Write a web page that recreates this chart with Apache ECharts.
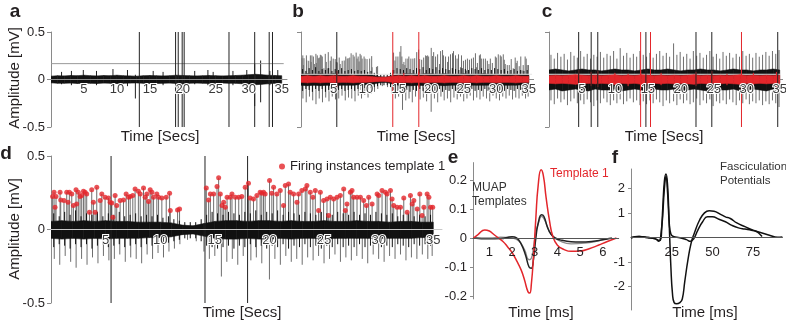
<!DOCTYPE html>
<html>
<head>
<meta charset="utf-8">
<script src="https://cdn.jsdelivr.net/npm/echarts@6/dist/echarts.min.js"></script>
<style>html,body{margin:0;padding:0;background:#fff}#app{width:786px;height:323px}</style>
</head>
<body>
<div id="app"></div>
<script>
var font = 'Liberation Sans';
var ink = '#231f20';
var axisGray = '#8a8a8a';
var red = '#e3262b';

// ---- shared 1 s grid for the noise envelopes (a-d)
var bandT = [0,1,2,3,4,5,6,7,8,9,10,11,12,13,14,15,16,17,18,19,20,21,22,23,24,25,26,27,28,29,30,31,32,33,34,35];

// ---- panel a
var aUp = [0.035,0.04,0.038,0.042,0.04,0.045,0.04,0.038,0.042,0.04,0.045,0.04,0.038,0.035,0.04,0.042,0.04,0.038,0.04,0.045,0.042,0.04,0.038,0.04,0.042,0.04,0.038,0.04,0.042,0.045,0.05,0.055,0.05,0.045,0.042,0.04];
var aLo = [-0.035,-0.04,-0.04,-0.038,-0.042,-0.04,-0.04,-0.042,-0.038,-0.04,-0.042,-0.04,-0.038,-0.036,-0.04,-0.04,-0.042,-0.04,-0.038,-0.042,-0.045,-0.04,-0.038,-0.04,-0.042,-0.04,-0.038,-0.04,-0.04,-0.045,-0.05,-0.055,-0.05,-0.045,-0.04,-0.04];
// [time, top, bottom]
var aSpikes = [[1.6,0.08,-0.05],[3.1,0.09,-0.06],[4.9,0.1,-0.05],[6.9,0.09,-0.06],[9.4,0.11,-0.06],[11.6,0.1,-0.07],[12.8,0.05,-0.2],[15.5,0.09,-0.05],[17.0,0.08,-0.06],[21.8,0.09,-0.05],[23.8,0.1,-0.06],[24.6,0.08,-0.05],[27.6,0.09,-0.06],[29.7,0.1,-0.06],[30.9,0.17,-0.28],[31.8,0.2,-0.24],[33.2,0.09,-0.06],[34.4,0.1,-0.05]];
var aLines = [13.4, 18.9, 19.3, 19.9, 20.2, 27.0, 30.9, 33.1, 33.6];
var aThreshold = 0.167;

// ---- panels b and d (same recording)
var dUp = [0.055,0.06,0.055,0.06,0.055,0.06,0.055,0.055,0.05,0.05,0.05,0.045,0.03,0.025,0.04,0.055,0.06,0.06,0.055,0.06,0.06,0.055,0.06,0.055,0.055,0.06,0.055,0.055,0.06,0.055,0.055,0.05,0.055,0.055,0.05,0.05];
var dLo = [-0.06,-0.065,-0.06,-0.065,-0.06,-0.065,-0.06,-0.06,-0.06,-0.055,-0.055,-0.05,-0.035,-0.03,-0.045,-0.06,-0.065,-0.065,-0.06,-0.065,-0.065,-0.06,-0.065,-0.06,-0.06,-0.065,-0.06,-0.06,-0.06,-0.06,-0.06,-0.06,-0.06,-0.06,-0.055,-0.055];
var dBlack = [[0.25,0.11,-0.12],[0.75,0.09,-0.1],[1.25,0.12,-0.11],[1.75,0.1,-0.13],[2.25,0.13,-0.1],[2.75,0.09,-0.12],[3.25,0.11,-0.1],[3.75,0.1,-0.13],[4.25,0.12,-0.11],[4.75,0.09,-0.1],[5.25,0.11,-0.12],[5.75,0.1,-0.11],[6.25,0.12,-0.1],[6.75,0.09,-0.12],[7.25,0.1,-0.11],[7.75,0.11,-0.1],[8.25,0.09,-0.12],[8.75,0.1,-0.1],[9.25,0.09,-0.11],[9.75,0.1,-0.09],[10.25,0.08,-0.1],[10.75,0.09,-0.09],[11.25,0.07,-0.08],[11.75,0.06,-0.07],[12.25,0.05,-0.06],[12.75,0.05,-0.06],[13.25,0.05,-0.06],[13.75,0.07,-0.08],[14.25,0.1,-0.11],[14.75,0.12,-0.12],[15.25,0.11,-0.13],[15.75,0.1,-0.12],[16.25,0.12,-0.11],[16.75,0.11,-0.13],[17.25,0.1,-0.11],[17.75,0.12,-0.12],[18.25,0.11,-0.1],[18.75,0.13,-0.12],[19.25,0.1,-0.11],[19.75,0.12,-0.13],[20.25,0.11,-0.11],[20.75,0.13,-0.12],[21.25,0.1,-0.1],[21.75,0.12,-0.13],[22.25,0.11,-0.11],[22.75,0.1,-0.12],[23.25,0.12,-0.1],[23.75,0.11,-0.12],[24.25,0.1,-0.11],[24.75,0.12,-0.13],[25.25,0.11,-0.11],[25.75,0.1,-0.12],[26.25,0.12,-0.1],[26.75,0.11,-0.12],[27.25,0.1,-0.11],[27.75,0.12,-0.12],[28.25,0.1,-0.1],[28.75,0.11,-0.12],[29.25,0.1,-0.11],[29.75,0.12,-0.1],[30.25,0.11,-0.12],[30.75,0.1,-0.11],[31.25,0.11,-0.12],[31.75,0.09,-0.1],[32.25,0.1,-0.11],[32.75,0.11,-0.12],[33.25,0.09,-0.1],[33.75,0.1,-0.11],[34.25,0.09,-0.1],[34.75,0.1,-0.11]];
var dNeg = [[0.3,-0.2],[0.8,-0.24],[1.3,-0.18],[1.8,-0.22],[2.3,-0.26],[2.8,-0.2],[3.3,-0.24],[3.8,-0.19],[4.3,-0.23],[4.8,-0.18],[5.3,-0.21],[5.8,-0.2],[6.3,-0.17],[6.8,-0.22],[7.3,-0.19],[7.8,-0.2],[8.3,-0.23],[8.8,-0.17],[9.3,-0.2],[9.8,-0.16],[10.3,-0.19],[10.8,-0.15],[11.3,-0.13],[11.8,-0.1],[12.5,-0.07],[13.3,-0.08],[14.0,-0.15],[14.5,-0.2],[15.0,-0.18],[15.6,-0.32],[16.1,-0.22],[16.6,-0.2],[17.1,-0.24],[17.6,-0.18],[18.3,-0.21],[18.8,-0.19],[19.3,-0.23],[20.0,-0.34],[20.5,-0.2],[21.0,-0.24],[21.5,-0.18],[22.0,-0.22],[22.5,-0.2],[23.0,-0.24],[23.5,-0.19],[24.0,-0.21],[24.5,-0.18],[25.0,-0.23],[25.5,-0.2],[26.0,-0.17],[26.5,-0.22],[27.0,-0.19],[27.5,-0.21],[28.0,-0.18],[28.5,-0.2],[29.0,-0.23],[29.5,-0.17],[30.0,-0.2],[30.5,-0.22],[31.0,-0.18],[31.5,-0.2],[32.0,-0.17],[32.5,-0.21],[33.0,-0.19],[33.5,-0.2],[34.0,-0.17],[34.5,-0.2],[34.9,-0.18]];
// firing instances of template 1 [time s, amplitude mV]
var firings = [[0.15,0.224],[0.28,0.254],[0.37,0.152],[0.46,0.224],[0.83,0.254],[0.89,0.2],[1.19,0.197],[1.44,0.254],[1.56,0.185],[1.68,0.254],[1.9,0.242],[2.05,0.163],[2.29,0.27],[2.35,0.174],[2.5,0.254],[2.66,0.224],[2.81,0.231],[2.97,0.26],[3.12,0.254],[3.27,0.242],[3.52,0.118],[3.73,0.27],[3.88,0.185],[4.04,0.118],[4.19,0.288],[4.5,0.197],[4.65,0.242],[4.95,0.22],[5.26,0.215],[5.41,0.185],[5.57,0.18],[5.66,0.084],[5.87,0.231],[6.02,0.163],[6.33,0.197],[6.64,0.2],[6.88,0.242],[7.1,0.22],[7.25,0.224],[7.49,0.231],[7.7,0.276],[8.0,0.26],[8.17,0.242],[8.47,0.283],[8.62,0.22],[8.78,0.242],[8.93,0.19],[9.08,0.27],[9.24,0.254],[9.39,0.22],[9.69,0.242],[9.85,0.22],[10.15,0.215],[10.55,0.22],[10.86,0.246],[10.92,0.129],[11.59,0.133],[11.77,0.14],
  [14.22,0.283],[14.43,0.2],[14.59,0.242],[14.89,0.242],[15.2,0.292],[15.35,0.352],[15.5,0.242],[15.66,0.163],[15.81,0.185],[15.96,0.152],[16.12,0.22],[16.42,0.22],[16.57,0.242],[16.88,0.22],[17.19,0.22],[17.47,0.224],[17.78,0.288],[18.08,0.315],[18.23,0.215],[18.54,0.208],[18.85,0.231],[19.15,0.254],[19.3,0.247],[19.46,0.254],[19.61,0.242],[20.01,0.333],[20.22,0.247],[20.38,0.288],[20.68,0.242],[20.99,0.265],[21.29,0.163],[21.45,0.299],[21.75,0.31],[21.9,0.254],[22.21,0.242],[22.52,0.185],[22.67,0.242],[22.97,0.265],[23.28,0.276],[23.43,0.299],[23.74,0.254],[23.98,0.22],[24.2,0.265],[24.5,0.129],[24.66,0.254],[24.96,0.197],[25.27,0.208],[25.42,0.095],[25.57,0.22],[25.88,0.208],[26.19,0.22],[26.49,0.231],[26.8,0.276],[26.95,0.129],[27.1,0.174],[27.41,0.254],[27.56,0.265],[27.71,0.22],[28.02,0.22],[28.33,0.22],[28.63,0.197],[28.88,0.163],[29.09,0.22],[29.4,0.174],[29.86,0.242],[30.01,0.231],[30.31,0.265],[30.62,0.254],[30.77,0.242],[31.08,0.265],[31.23,0.208],[31.38,0.163],[31.69,0.152],[32.0,0.152],[32.3,0.215],[32.61,0.118],[32.91,0.231],[33.07,0.174],[33.22,0.197],[33.53,0.14],[33.77,0.242],[33.98,0.095],[34.14,0.152],[34.44,0.242],[34.6,0.22],[34.75,0.152],[34.95,0.152]];
var bRedUp = [0.035,0.04,0.035,0.04,0.035,0.04,0.035,0.035,0.04,0.035,0.035,0.03,0.025,0.025,0.035,0.04,0.035,0.04,0.035,0.04,0.035,0.035,0.04,0.035,0.035,0.04,0.035,0.04,0.035,0.035,0.04,0.035,0.035,0.04,0.035,0.035];
var bRedLo = [-0.03,-0.035,-0.03,-0.035,-0.03,-0.035,-0.03,-0.03,-0.035,-0.03,-0.03,-0.025,-0.02,-0.02,-0.03,-0.035,-0.03,-0.035,-0.03,-0.035,-0.03,-0.03,-0.035,-0.03,-0.03,-0.035,-0.03,-0.035,-0.03,-0.03,-0.035,-0.03,-0.03,-0.035,-0.03,-0.03];
var bRedSpikes = [[5.5,0.09,-0.08],[14.1,0.1,-0.08],[15.8,0.07,-0.06],[18.1,0.08,-0.08]];
var bLines = [5.5];
var bRedLines = [14.1, 18.1];
var dLines = [5.5, 14.1, 18.0];
var bcThreshold = 0.055;

// ---- panel c
var cUp = [0.1,0.11,0.1,0.09,0.1,0.11,0.1,0.1,0.09,0.1,0.11,0.1,0.1,0.09,0.1,0.11,0.1,0.1,0.11,0.1,0.09,0.1,0.1,0.11,0.1,0.1,0.09,0.1,0.11,0.1,0.1,0.09,0.1,0.1,0.11,0.1];
var cLo = [-0.11,-0.1,-0.12,-0.11,-0.1,-0.11,-0.12,-0.1,-0.11,-0.11,-0.1,-0.12,-0.11,-0.1,-0.11,-0.12,-0.1,-0.11,-0.11,-0.1,-0.12,-0.11,-0.1,-0.11,-0.12,-0.1,-0.11,-0.11,-0.1,-0.12,-0.11,-0.1,-0.11,-0.12,-0.1,-0.11];
var cSpikes = [[0.3,0.26,-0.22],[0.8,0.22,-0.26],[1.3,0.28,-0.2],[1.8,0.24,-0.24],[2.3,0.27,-0.21],[2.8,0.21,-0.27],[3.3,0.29,-0.23],[3.8,0.25,-0.2],[4.3,0.23,-0.25],[4.8,0.3,-0.22],[5.3,0.24,-0.26],[5.8,0.27,-0.21],[6.3,0.22,-0.24],[6.8,0.26,-0.28],[7.3,0.24,-0.22],[7.8,0.29,-0.25],[8.3,0.23,-0.2],[8.8,0.27,-0.24],[9.3,0.25,-0.27],[9.8,0.3,-0.22],[10.3,0.22,-0.25],[10.8,0.33,-0.21],[11.3,0.25,-0.26],[11.8,0.28,-0.23],[12.3,0.23,-0.2],[12.8,0.27,-0.24],[13.3,0.24,-0.22],[13.8,0.3,-0.27],[14.3,0.26,-0.23],[14.8,0.24,-0.26],[15.3,0.28,-0.22],[15.8,0.23,-0.25],[16.3,0.27,-0.21],[16.8,0.3,-0.24],[17.3,0.25,-0.28],[17.8,0.28,-0.22],[18.3,0.24,-0.25],[18.9,0.38,-0.23],[19.4,0.26,-0.27],[19.9,0.29,-0.21],[20.4,0.24,-0.25],[20.9,0.27,-0.22],[21.4,0.22,-0.26],[21.9,0.3,-0.24],[22.4,0.25,-0.2],[22.9,0.28,-0.27],[23.4,0.23,-0.22],[23.9,0.26,-0.25],[24.4,0.3,-0.21],[24.9,0.24,-0.28],[25.4,0.27,-0.23],[25.9,0.22,-0.25],[26.4,0.29,-0.22],[26.9,0.25,-0.26],[27.4,0.28,-0.21],[27.9,0.23,-0.24],[28.4,0.27,-0.27],[28.9,0.24,-0.22],[29.4,0.3,-0.25],[29.9,0.25,-0.21],[30.4,0.27,-0.26],[30.9,0.23,-0.23],[31.4,0.28,-0.25],[31.9,0.24,-0.22],[32.4,0.26,-0.27],[32.9,0.29,-0.23],[33.4,0.25,-0.26],[33.9,0.3,-0.22],[34.4,0.27,-0.25],[34.9,0.31,-0.29]];
var cRedUp = [0.04,0.045,0.04,0.045,0.05,0.045,0.04,0.045,0.04,0.045,0.05,0.04,0.045,0.04,0.05,0.045,0.04,0.045,0.04,0.045,0.04,0.045,0.05,0.04,0.045,0.04,0.045,0.04,0.045,0.05,0.04,0.045,0.04,0.045,0.04,0.045];
var cRedLo = [-0.04,-0.045,-0.04,-0.045,-0.05,-0.045,-0.04,-0.045,-0.04,-0.045,-0.05,-0.04,-0.045,-0.04,-0.05,-0.045,-0.04,-0.045,-0.04,-0.045,-0.04,-0.045,-0.05,-0.04,-0.045,-0.04,-0.045,-0.04,-0.045,-0.05,-0.04,-0.045,-0.04,-0.045,-0.04,-0.045];
var cRedSpikes = [[4.5,0.1,-0.1],[6.4,0.08,-0.07],[7.4,0.09,-0.08],[10.0,0.07,-0.06],[12.0,0.06,-0.07],[13.9,0.1,-0.1],[15.4,0.1,-0.1],[17.0,0.07,-0.06],[22.3,0.08,-0.07],[24.7,0.09,-0.08],[27.0,0.06,-0.06],[29.2,0.1,-0.1],[31.0,0.07,-0.07],[34.5,0.08,-0.08]];
var cLines = [4.5, 6.4, 7.4, 14.7, 22.3, 24.7, 34.7];
var cRedLines = [13.9, 15.4, 29.2];

// ---- panel e: MUAP templates [ms, mV]
var tplRed = [[0.3,0],[0.5,0.012],[0.8,0.028],[1.0,0.024],[1.2,0.012],[1.4,0.0],[1.6,-0.012],[1.8,-0.03],[2.0,-0.05],[2.2,-0.078],[2.4,-0.11],[2.55,-0.145],[2.7,-0.185],[2.78,-0.19],[2.85,-0.16],[2.95,-0.06],[3.05,0.07],[3.15,0.18],[3.28,0.235],[3.38,0.215],[3.5,0.14],[3.65,0.06],[3.8,0.005],[4.0,-0.025],[4.3,-0.04],[4.6,-0.046],[5.0,-0.045],[5.4,-0.037],[5.8,-0.025],[6.2,-0.012],[6.6,0]];
var tplBlack = [[0.3,0],[1,-0.003],[1.5,-0.002],[2.0,0.004],[2.2,0.0],[2.4,-0.02],[2.6,-0.06],[2.75,-0.1],[2.85,-0.104],[2.95,-0.07],[3.05,0.0],[3.15,0.05],[3.3,0.08],[3.4,0.075],[3.55,0.04],[3.7,0.015],[3.9,0.0],[4.2,-0.008],[4.6,-0.013],[5.0,-0.014],[5.5,-0.012],[6.0,-0.006],[6.4,0]];
var tplGray = [[0.3,0],[1,0],[1.5,0.003],[2.0,0.0],[2.3,-0.01],[2.55,-0.04],[2.75,-0.075],[2.85,-0.07],[2.95,-0.03],[3.05,0.02],[3.2,0.06],[3.3,0.075],[3.45,0.06],[3.6,0.03],[3.8,0.005],[4.1,-0.01],[4.6,-0.02],[5.2,-0.018],[5.8,-0.01],[6.3,0]];

// ---- panel f: fasciculation potentials [ms, mV]
var fascA = [[0,0],[5,0.05],[10,0],[15,-0.05],[17,-0.15],[18.5,0.2],[19.5,1.2],[20.5,2.3],[21.5,2.6],[22.5,2.1],[23.5,0.5],[24.5,-1.2],[25.5,-2.3],[26.5,-2.65],[28,-2.7],[30,-2.65],[31.5,-2.5],[33,-1.8],[35,-0.9],[37,-0.2],[39,0.2],[42,0.7],[45,1.0],[48,1.1],[51,1.08],[55,0.95],[58,0.85],[61,0.78],[65,0.6],[70,0.45],[75,0.3],[80,0.2],[85,0.1],[90,0.02],[93,0.03]];
var fascB = [[0,0],[5,0.05],[10,0.02],[15,-0.05],[17.5,-0.12],[19,0.5],[20.5,2.0],[21.5,2.5],[22.5,1.8],[23.5,0.6],[24.5,0.15],[26,0.05],[30,0.0],[34,-0.08],[36.5,-0.15],[38.5,-0.05],[41,0.3],[44,0.65],[47,0.85],[50,0.85],[54,0.75],[58,0.65],[62,0.5],[66,0.4],[70,0.35],[74,0.3],[77,0.25],[79,0.15],[80.5,0.05]];

var secTicks = [5, 10, 15, 20, 25, 30, 35];

function segSeries(gi, data, color, width, z) {
  return {
    type: 'custom', xAxisIndex: gi, yAxisIndex: gi, z: z, silent: true, clip: true,
    data: data,
    renderItem: function (params, api) {
      var p0 = api.coord([api.value(0), api.value(1)]);
      var p1 = api.coord([api.value(0), api.value(2)]);
      return {type: 'line', shape: {x1: p0[0], y1: p0[1], x2: p1[0], y2: p1[1]},
              style: {stroke: color, lineWidth: width}};
    }
  };
}

function bandSeries(gi, up, lo, color, z) {
  var data = bandT.map(function (t, i) { return [t, up[i], lo[i]]; });
  return {
    type: 'custom', xAxisIndex: gi, yAxisIndex: gi, z: z, silent: true, clip: true,
    data: data,
    renderItem: function (params, api) {
      var i = params.dataIndex;
      if (i >= data.length - 1) return;
      var a = data[i], b = data[i + 1];
      var pts = [api.coord([a[0], a[1]]), api.coord([b[0], b[1]]), api.coord([b[0], b[2]]), api.coord([a[0], a[2]])];
      return {type: 'polygon', shape: {points: pts}, style: {fill: color, stroke: color, lineWidth: 0.6}};
    }
  };
}

function vLines(gi, times, lo, hi, color) {
  return segSeries(gi, times.map(function (t) { return [t, lo, hi]; }), color, 1, 8);
}
function fromZero(list) {
  return list.map(function (d) { return [d[0], 0, d[1]]; });
}
function hLine(gi, y, x0, x1, color, z) {
  return {type: 'line', xAxisIndex: gi, yAxisIndex: gi, data: [[x0, y], [x1, y]], symbol: 'none',
          silent: true, z: z || 6, lineStyle: {color: color, width: 1}};
}

// x axes sit on the zero line: placed at the bottom and shifted up by offset
function secAxis(gi, max, margin, offset, lineColor) {
  return {
    type: 'value', gridIndex: gi, min: 0, max: max, z: 10, position: 'bottom', offset: offset,
    axisLine: {onZero: false, lineStyle: {color: lineColor, width: 1}},
    axisTick: {show: false}, splitLine: {show: false},
    axisLabel: {customValues: secTicks, margin: margin, fontSize: 13, color: '#3a3a3a',
                textBorderColor: '#fff', textBorderWidth: 2, fontFamily: font}
  };
}
function ampAxis(gi, showLabels) {
  return {
    type: 'value', gridIndex: gi, min: -0.5, max: 0.5,
    axisLine: {onZero: false, lineStyle: {color: axisGray, width: 1}},
    axisTick: {length: 4, customValues: showLabels ? [-0.5, 0, 0.5] : [-0.5, 0.5], lineStyle: {color: axisGray}},
    splitLine: {show: false},
    axisLabel: {show: showLabels, customValues: [-0.5, 0, 0.5], margin: 6, fontSize: 13, color: ink, fontFamily: font}
  };
}

function txt(x, y, s, size, opt) {
  opt = opt || {};
  return {type: 'text', x: x, y: y, rotation: opt.rot || 0, z: 100,
          style: {text: s, fontSize: size, fontFamily: font, fontWeight: opt.bold ? 'bold' : 'normal',
                  fill: opt.fill || ink, align: opt.align || 'center', verticalAlign: 'middle'}};
}

var myChart = echarts.init(document.getElementById('app'));

var option = {
  backgroundColor: '#fff',
  animation: false,
  textStyle: {fontFamily: font},
  grid: [
    {left: 51, top: 32, width: 236, height: 95, outerBoundsMode: 'none'},
    {left: 301, top: 32, width: 233, height: 95, outerBoundsMode: 'none'},
    {left: 549, top: 32, width: 234, height: 95, outerBoundsMode: 'none'},
    {left: 51, top: 156, width: 391, height: 147, outerBoundsMode: 'none'},
    {left: 473, top: 162.6, width: 145.7, height: 136.3, outerBoundsMode: 'none'},
    {left: 631, top: 169, width: 151.4, height: 141, outerBoundsMode: 'none'}
  ],
  xAxis: [
    secAxis(0, 35.8, 3, -47.5, axisGray),
    secAxis(1, 35.8, 3, -47.5, 'rgba(0,0,0,0)'),
    secAxis(2, 35.5, 3, -47.5, 'rgba(0,0,0,0)'),
    secAxis(3, 35.8, 4, -73.5, '#c8c8c8'),
    {type: 'value', gridIndex: 4, min: 0.28, max: 6.7, z: 10, position: 'bottom', offset: -60.9,
     axisLine: {onZero: false, lineStyle: {color: '#555'}}, axisTick: {show: false}, splitLine: {show: false},
     axisLabel: {customValues: [1, 2, 3, 4, 5, 6], margin: 8, fontSize: 13, color: ink}},
    {type: 'value', gridIndex: 5, min: 0, max: 93, z: 10, position: 'bottom', offset: -72.3,
     axisLine: {onZero: false, lineStyle: {color: '#555'}}, axisTick: {show: false}, splitLine: {show: false},
     axisLabel: {customValues: [25, 50, 75], margin: 8, fontSize: 13, color: ink}}
  ],
  yAxis: [
    ampAxis(0, true),
    ampAxis(1, false),
    ampAxis(2, false),
    ampAxis(3, true),
    {type: 'value', gridIndex: 4, min: -0.21, max: 0.26,
     axisLine: {onZero: false, lineStyle: {color: axisGray}}, splitLine: {show: false},
     axisTick: {length: 3, customValues: [-0.2, -0.1, 0, 0.1, 0.2], lineStyle: {color: axisGray}},
     axisLabel: {customValues: [-0.2, -0.1, 0, 0.1, 0.2], margin: 6, fontSize: 13, color: ink}},
    {type: 'value', gridIndex: 5, min: -2.95, max: 2.8,
     axisLine: {onZero: false, lineStyle: {color: axisGray}}, splitLine: {show: false},
     axisTick: {length: 3, customValues: [-2, -1, 1, 2], lineStyle: {color: axisGray}},
     axisLabel: {customValues: [-2, -1, 1, 2], margin: 6, fontSize: 13, color: ink}}
  ],
  legend: {
    data: [{name: 'Firing instances template 1', icon: 'circle'}],
    left: 279, top: 160, itemWidth: 6, itemHeight: 6, padding: 0,
    textStyle: {fontSize: 13, color: ink, fontFamily: font}
  },
  series: [
    // a
    segSeries(0, aSpikes, '#222', 1, 2),
    bandSeries(0, aUp, aLo, '#111', 3),
    hLine(0, aThreshold, 0, 35.3, '#9a9a9a'),
    vLines(0, aLines, -0.5, 0.5, '#222'),
    // b
    hLine(1, 0, 0, 35.8, axisGray, 0),
    segSeries(1, fromZero(firings), '#6e6e6e', 1, 1),
    segSeries(1, fromZero(dNeg), '#6e6e6e', 1, 1),
    segSeries(1, dBlack, '#111', 1, 2),
    bandSeries(1, dUp, dLo, '#111', 3),
    hLine(1, bcThreshold, 0, 35.5, '#e6e6e6'),
    bandSeries(1, bRedUp, bRedLo, red, 7),
    segSeries(1, bRedSpikes, red, 1, 7),
    vLines(1, bLines, -0.5, 0.5, '#222'),
    vLines(1, bRedLines, -0.5, 0.5, red),
    // c
    hLine(2, 0, 0, 35.5, axisGray, 0),
    segSeries(2, cSpikes, '#6e6e6e', 1, 1),
    bandSeries(2, cUp, cLo, '#111', 3),
    hLine(2, bcThreshold, 0, 35.2, '#e6e6e6'),
    bandSeries(2, cRedUp, cRedLo, red, 7),
    segSeries(2, cRedSpikes, red, 1, 7),
    vLines(2, cLines, -0.5, 0.5, '#222'),
    vLines(2, cRedLines, -0.5, 0.5, red),
    // d
    segSeries(3, fromZero(firings), '#6e6e6e', 1, 1),
    segSeries(3, fromZero(dNeg), '#6e6e6e', 1, 1),
    segSeries(3, dBlack, '#111', 1, 2),
    bandSeries(3, dUp, dLo, '#111', 3),
    vLines(3, dLines, -0.5, 0.5, '#222'),
    {name: 'Firing instances template 1', type: 'scatter', xAxisIndex: 3, yAxisIndex: 3,
     data: firings, symbolSize: 5, itemStyle: {color: red}, z: 9, silent: true},
    // e
    {type: 'line', xAxisIndex: 4, yAxisIndex: 4, data: tplGray, smooth: true, symbol: 'none',
     lineStyle: {color: '#8c8c8c', width: 1.3}, z: 4},
    {type: 'line', xAxisIndex: 4, yAxisIndex: 4, data: tplBlack, smooth: true, symbol: 'none',
     lineStyle: {color: '#222', width: 1.5}, z: 5},
    {type: 'line', xAxisIndex: 4, yAxisIndex: 4, data: tplRed, smooth: true, symbol: 'none',
     lineStyle: {color: red, width: 1.5}, z: 6},
    // f
    {type: 'line', xAxisIndex: 5, yAxisIndex: 5, data: fascA, smooth: true, symbol: 'none',
     lineStyle: {color: '#111', width: 1.5}},
    {type: 'line', xAxisIndex: 5, yAxisIndex: 5, data: fascB, smooth: true, symbol: 'none',
     lineStyle: {color: '#111', width: 1.5}}
  ],
  graphic: [
    txt(15, 12, 'a', 19, {bold: true}),
    txt(298, 12, 'b', 19, {bold: true}),
    txt(547, 12, 'c', 19, {bold: true}),
    txt(6, 154, 'd', 19, {bold: true}),
    txt(453, 158, 'e', 19, {bold: true}),
    txt(615, 158, 'f', 19, {bold: true}),
    txt(15, 78, 'Amplitude [mV]', 15, {rot: Math.PI / 2}),
    txt(15, 229, 'Amplitude [mV]', 15, {rot: Math.PI / 2}),
    txt(160, 137, 'Time [Secs]', 15),
    txt(416, 137, 'Time [Secs]', 15),
    txt(664, 137, 'Time [Secs]', 15),
    txt(242, 313, 'Time [Secs]', 15),
    txt(541, 313, 'Time [ms]', 15),
    txt(705, 313, 'Time [ms]', 15),
    txt(472, 188, 'MUAP', 12, {align: 'left', fill: '#333'}),
    txt(472, 202, 'Templates', 12, {align: 'left', fill: '#333'}),
    txt(550, 174, 'Template 1', 12, {align: 'left', fill: red}),
    txt(720, 167, 'Fasciculation', 11.5, {align: 'left', fill: '#333'}),
    txt(720, 181, 'Potentials', 11.5, {align: 'left', fill: '#333'})
  ]
};

myChart.setOption(option);
</script>
</body>
</html>
